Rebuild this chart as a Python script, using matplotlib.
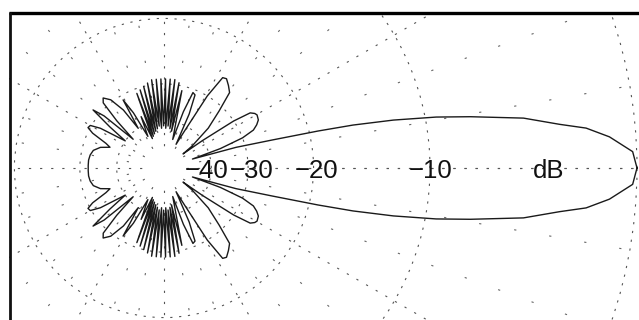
import numpy as np
import matplotlib
matplotlib.use("Agg")
import matplotlib.pyplot as plt
from matplotlib.patches import Rectangle
from matplotlib.lines import Line2D
from matplotlib.ticker import MultipleLocator

# ---- data: upper-half radiation pattern (degrees, dB); lower half is its mirror ----
theta_deg = [0, 2, 4, 5.4, 6.3, 7.9, 9.5, 10.6, 11.8, 12.8, 13.5, 14.5, 16, 17.5,
             19, 21, 23, 25, 27, 29.7, 31, 32.6, 34, 35.5, 36.5,
             38, 42, 46, 49, 52, 55, 57, 59, 61, 63,
             65, 67, 69, 71, 73,
             77, 78.5, 80, 81.5, 83, 84.5, 86, 87.5, 89, 90.5, 92, 93.5,
             95, 96.5, 98, 99.5, 101, 102.5, 104, 105.5, 107, 108.5, 110, 111.5,
             114, 117,
             119, 121, 123, 125, 128, 131, 133, 135, 137, 139, 140.7, 142.8,
             145, 148, 150, 152, 154, 157, 159, 162, 166, 170, 174, 178, 180]
gain_db = [0, -0.15, -1.0, -1.9, -3.0, -4.6, -7.3, -9.3, -12.2, -15.5, -19, -25, -32, -48,
           -36, -30, -27.5, -26.6, -26, -25.8, -26, -26.6, -30, -40, -52,
           -45, -36, -31, -27, -26.2, -25.5, -25.7, -30, -42, -50,
           -36, -31, -30.7, -36, -48,
           -31, -44, -29.5, -43, -29, -42, -29, -43, -29, -42, -29, -43,
           -29, -42, -29, -43, -29.5, -44, -30, -45, -30.5, -46, -31, -47,
           -37, -45,
           -35, -31, -40, -33, -29.5, -28.3, -29, -34, -42, -31, -28.5, -33.7,
           -40, -32, -29.8, -29.6, -31, -35, -36.5, -34, -32.5, -32, -31.8, -31.8, -31.8]

circle_db = [-40, -30, -20, -10, 0]
label_db = [-40, -30, -20, -10]
label_txt = ["\u221240", "\u221230", "\u221220", "\u221210"]
label_shift_px = [-5, 4, 3, 1]
unit_db = -3.6
unit_txt = "dB"
blank_db = -57  # empty disc around the centre


def to_r(db):
    return 10.0 ** (np.asarray(db, dtype=float) / 40.0)


# full pattern (upper half then mirrored lower half)
th_up = np.radians(theta_deg)
th_full = np.concatenate([th_up, -th_up[::-1]])
g_full = np.concatenate([gain_db, gain_db[::-1]])

W, H = 639, 320
fig = plt.figure(figsize=(W / 100, H / 100), dpi=100)
fig.patch.set_facecolor("white")

cx, cy = 164, 168          # centre in pixels (from top-left)
rpx = 473                  # 0 dB radius in pixels
rmax = 1.03
half = rpx * rmax
ax = fig.add_axes([(cx - half) / W, (H - cy - half) / H, 2 * half / W, 2 * half / H],
                  projection="polar")
ax.set_ylim(0, rmax)
ax.spines["polar"].set_visible(False)
ax.set_facecolor("none")

# grid
ax.set_yticks(to_r(circle_db))
ax.set_yticklabels([])
ax.xaxis.set_major_locator(MultipleLocator(np.radians(30)))
ax.xaxis.set_minor_locator(MultipleLocator(np.radians(10)))
ax.set_xticklabels([])
ax.tick_params(axis="x", which="both", length=0)
ax.grid(True, which="major", axis="y", color="#555555", lw=0.8, ls=(0, (2, 6)))
ax.grid(True, which="major", axis="x", color="#555555", lw=0.8, ls=(0, (2, 8)))
ax.grid(True, which="minor", axis="x", color="#666666", lw=0.8, ls=(0, (2, 30)))

# blank disc in the middle (covers converging grid dots)
circ_t = np.linspace(0, 2 * np.pi, 200)
ax.fill_between(circ_t, 0, to_r(blank_db), color="white", lw=0, zorder=2)

# pattern
ax.plot(th_full, to_r(g_full), color="#1a1a1a", lw=1.0, zorder=5)

# labels along 0 deg
for d, t, s in zip(label_db, label_txt, label_shift_px):
    ax.annotate(t, xy=(0, to_r(d)), xytext=(s, 0), textcoords="offset pixels",
                ha="center", va="center_baseline", fontsize=18.5,
                family="Liberation Sans", color="#111111", zorder=6)
ax.annotate(unit_txt, xy=(0, to_r(unit_db)), xytext=(0, 0), textcoords="offset pixels",
            ha="center", va="center_baseline", fontsize=18.5,
            family="Liberation Sans", color="#111111", zorder=6)

# mask outside frame and draw frame
fx, fy = 9, 12
fig.add_artist(Rectangle((0, (H - fy) / H), 1, fy / H, transform=fig.transFigure,
                         facecolor="white", edgecolor="none", zorder=20))
fig.add_artist(Rectangle((0, 0), fx / W, 1, transform=fig.transFigure,
                         facecolor="white", edgecolor="none", zorder=20))
fig.add_artist(Line2D([fx / W, 1], [(H - fy - 1) / H] * 2, transform=fig.transFigure,
                      color="black", lw=2.4, zorder=21, solid_capstyle="butt"))
fig.add_artist(Line2D([(fx + 1) / W] * 2, [0, (H - fy) / H], transform=fig.transFigure,
                      color="#111111", lw=2.0, zorder=21, solid_capstyle="butt"))

fig.savefig("out.png", dpi=100)
